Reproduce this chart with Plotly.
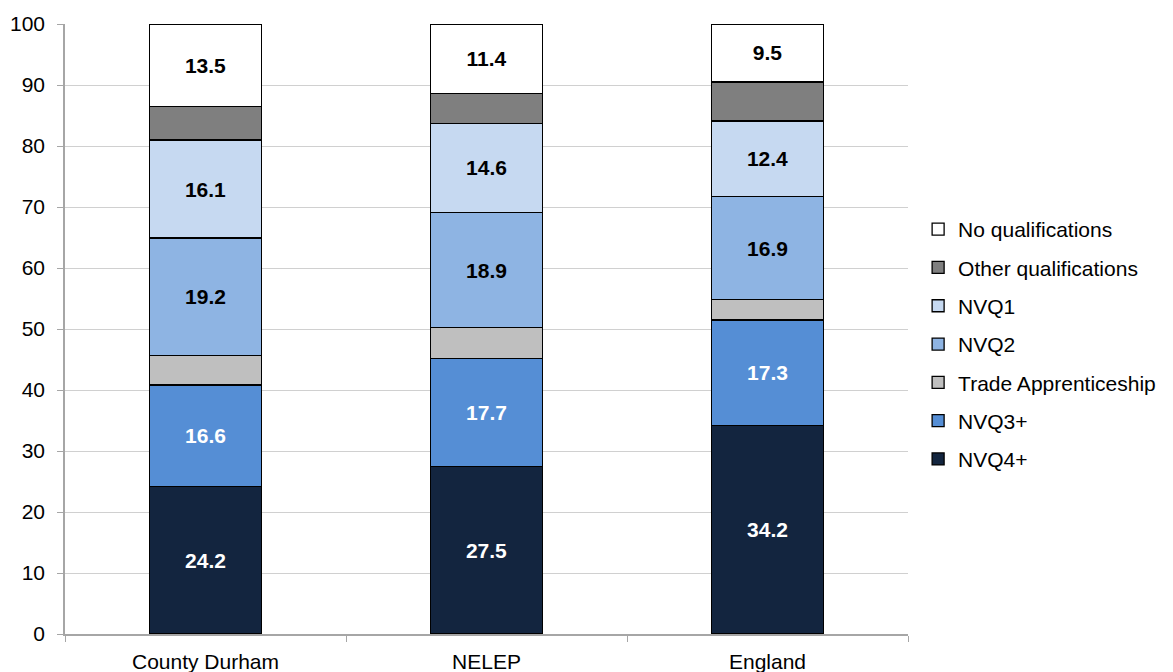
import plotly.graph_objects as go

categories = ["County Durham", "NELEP", "England"]
series_names = ["NVQ4+", "NVQ3+", "Trade Apprenticeship", "NVQ2", "NVQ1",
                "Other qualifications", "No qualifications"]
nvq4 = [24.2, 27.5, 34.2]
nvq3 = [16.6, 17.7, 17.3]
trade = [4.9, 5.0, 3.3]
nvq2 = [19.2, 18.9, 16.9]
nvq1 = [16.1, 14.6, 12.4]
other = [5.5, 4.9, 6.4]
noqual = [13.5, 11.4, 9.5]

values = [nvq4, nvq3, trade, nvq2, nvq1, other, noqual]
colors = ["#13253f", "#558ed5", "#bfbfbf", "#8eb4e3", "#c6d9f1", "#7f7f7f", "#ffffff"]
show_labels = [True, True, False, True, True, False, True]
label_colors = ["white", "white", "black", "black", "black", "black", "black"]

FONT = "Liberation Sans, Arial"

fig = go.Figure()
for i, (name, vals) in enumerate(zip(series_names, values)):
    txt = [f"<b>{v:.1f}</b>" for v in vals] if show_labels[i] else ["" for _ in vals]
    fig.add_trace(go.Bar(
        x=categories, y=vals, name=name,
        marker=dict(color=colors[i], line=dict(color="#000000", width=1.3)),
        text=txt, textposition="inside", insidetextanchor="middle",
        textangle=0, constraintext="none",
        textfont=dict(color=label_colors[i], size=21, family=FONT),
        width=0.4, legendgroup=name, legendrank=1000 - i,
        hoverinfo="skip",
    ))

fig.update_layout(
    barmode="stack",
    width=1173, height=672,
    margin=dict(l=65, r=263, t=24, b=38),
    plot_bgcolor="white", paper_bgcolor="white",
    font=dict(family=FONT, size=21, color="#000000"),
    showlegend=True,
    legend=dict(
        x=1.012, y=0.4746, xanchor="left", yanchor="middle",
        traceorder="grouped", tracegroupgap=8,
        font=dict(size=21), itemwidth=30,
        bgcolor="rgba(0,0,0,0)",
    ),
    bargap=0.6,
)
fig.update_yaxes(
    range=[0, 100], dtick=10, showgrid=True, gridcolor="#d0d0d0", gridwidth=1,
    showline=True, linecolor="#a6a6a6", linewidth=1.5,
    ticks="outside", ticklen=6, tickcolor="#a6a6a6",
    tickfont=dict(size=21), zeroline=False, ticklabelstandoff=8,
    automargin=False,
)
fig.update_xaxes(
    showline=True, linecolor="#a6a6a6", linewidth=1.5,
    ticks="outside", ticklen=6, tickcolor="#a6a6a6", tickson="boundaries",
    tickfont=dict(size=21), showgrid=False, ticklabelstandoff=8,
    automargin=False,
)

fig.write_html("out.html")
